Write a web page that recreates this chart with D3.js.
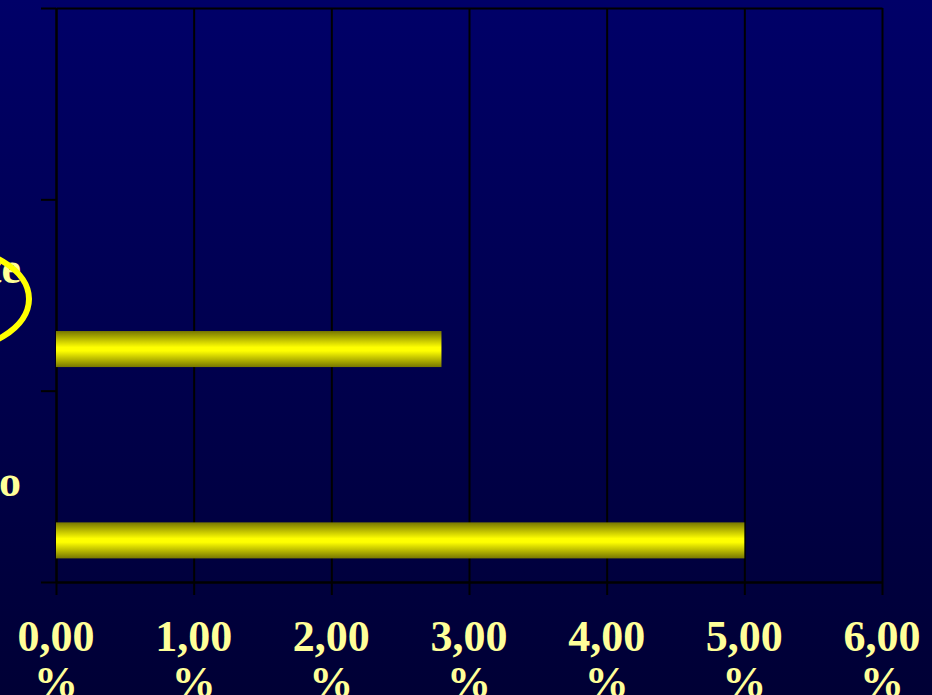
<!DOCTYPE html>
<html>
  <head>
    <title>Barras</title>
    <script type="text/javascript" src="https://cdn.jsdelivr.net/npm/d3@7/dist/d3.min.js"></script>
    <style type="text/css">
      body {
        margin: 0;
        overflow: hidden;
      }
      text {
        font-family: "Liberation Serif", "Times New Roman", serif;
        font-weight: bold;
        fill: #ffff99;
      }
      .axis path, .axis line {
        stroke: #000;
        stroke-width: 2;
      }
    </style>
  </head>
  <body>
  </body>
  <script type="text/javascript">

  // categories, top to bottom (labels wrapped into lines)
  var categories = ['C1', 'C2', 'C3']
  var categoryLines = [[], ['Ocasionalmente', 'ativo'], ['Sedentário']]
  // series slots inside each category (first series sits lowest)
  var series = ['S1', 'S2', 'S3', 'S4']
  var values = {
    S1: [0, 2.8, 5.0],
    S2: [0, 0, 0],
    S3: [0, 0, 0],
    S4: [0, 0, 0]
  }
  var xTicks = [0, 1, 2, 3, 4, 5, 6]

  var W = 932, H = 695
  var plotLeft = 56, plotRight = 882, plotTop = 8, plotBottom = 582

  var svg = d3.select('body')
    .append('svg')
      .attr('width', W)
      .attr('height', H)

  var defs = svg.append('defs')
  var bg = defs.append('linearGradient').attr('id', 'bg')
    .attr('x1', 0).attr('y1', 0).attr('x2', 0).attr('y2', 1)
  bg.append('stop').attr('offset', 0).attr('stop-color', '#000068')
  bg.append('stop').attr('offset', 1).attr('stop-color', '#000035')

  var bar = defs.append('linearGradient').attr('id', 'bar')
    .attr('x1', 0).attr('y1', 0).attr('x2', 0).attr('y2', 1)
  bar.append('stop').attr('offset', 0).attr('stop-color', '#777700')
  bar.append('stop').attr('offset', 0.45).attr('stop-color', '#ffff00')
  bar.append('stop').attr('offset', 0.55).attr('stop-color', '#ffff00')
  bar.append('stop').attr('offset', 1).attr('stop-color', '#777700')

  svg.append('rect').attr('width', W).attr('height', H).attr('fill', 'url(#bg)')

  var x = d3.scaleLinear().domain([0, 6]).range([plotLeft, plotRight])
  var y = d3.scaleBand().domain(categories).range([plotTop, plotBottom])
  var ySub = d3.scaleBand().domain(series.slice().reverse())
    .range([0, y.bandwidth()]).paddingInner(0).paddingOuter(0.655)
  var yEdge = d3.scaleLinear().domain([0, categories.length]).range([plotBottom, plotTop])

  // grid lines (extend below as tick marks)
  svg.append('g').attr('class', 'axis')
    .attr('transform', 'translate(0,' + plotBottom + ')')
    .call(d3.axisBottom(x).tickValues(xTicks).tickSizeInner(-(plotBottom - plotTop)).tickSizeOuter(0).tickFormat(''))
  svg.append('g').attr('class', 'axis')
    .attr('transform', 'translate(0,' + plotBottom + ')')
    .call(d3.axisBottom(x).tickValues(xTicks).tickSize(13).tickSizeOuter(0).tickFormat(''))
  svg.append('g').attr('class', 'axis')
    .attr('transform', 'translate(0,' + plotTop + ')')
    .call(d3.axisTop(x).tickValues([]).tickSizeOuter(0))
  svg.append('g').attr('class', 'axis')
    .attr('transform', 'translate(' + plotLeft + ',0)')
    .call(d3.axisLeft(yEdge).ticks(categories.length).tickSize(15).tickSizeOuter(0).tickFormat(''))

  // bars
  series.forEach(function(s) {
    svg.append('g').selectAll('rect')
      .data(values[s].map(function(v, i) { return { c: categories[i], v: v } })
        .filter(function(d) { return d.v > 0 }))
      .enter().append('rect')
        .attr('x', x(0))
        .attr('y', function(d) { return y(d.c) + ySub(s) })
        .attr('width', function(d) { return x(d.v) - x(0) })
        .attr('height', ySub.bandwidth())
        .attr('fill', 'url(#bar)')
  })

  // x tick labels, wrapped on two lines
  var fmt = function(v) { return d3.format('.2f')(v).replace('.', ',') }
  var xl = svg.append('g').selectAll('text')
    .data(xTicks)
    .enter().append('text')
      .attr('text-anchor', 'middle')
      .style('font-size', '44px')
  xl.append('tspan').attr('x', function(d) { return x(d) }).attr('y', 651).text(fmt)
  xl.append('tspan').attr('x', function(d) { return x(d) }).attr('y', 697).text('%')

  // category labels, centred block ending near the axis
  categoryLines.forEach(function(lines, i) {
    if (!lines.length) return
    var cy = y(categories[i]) + y.bandwidth() / 2
    var t = svg.append('text').attr('text-anchor', 'middle').style('font-size', '44px')
    var spans = lines.map(function(l, j) {
      return t.append('tspan')
        .attr('y', cy + 10 + (j - (lines.length - 1) / 2) * 45)
        .text(l)
    })
    var w = d3.max(spans, function(s) { return s.node().getComputedTextLength() })
    spans.forEach(function(s) { s.attr('x', 21 - w / 2) })
  })

  // hand drawn highlight
  svg.append('ellipse')
    .attr('cx', -60).attr('cy', 299)
    .attr('rx', 89).attr('ry', 53)
    .attr('fill', 'none')
    .attr('stroke', '#ffff00')
    .attr('stroke-width', 6)

  </script>
</html>
